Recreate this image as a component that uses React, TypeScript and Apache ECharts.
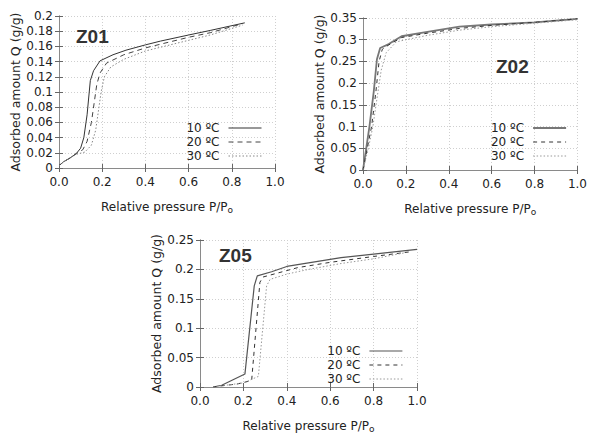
import React, { useEffect, useRef } from "react";
import * as echarts from "echarts";

const seriesNames = ["10 ºC", "20 ºC", "30 ºC"];
const panelTitles = ["Z01", "Z02", "Z05"];

// Z01 isotherms [P/P0, Q]
const z01_10: number[][] = [
  [0, 0.003], [0.02, 0.008], [0.05, 0.013], [0.08, 0.019], [0.1, 0.026], [0.115, 0.04],
  [0.13, 0.07], [0.14, 0.1], [0.145, 0.115], [0.16, 0.128], [0.19, 0.141], [0.25, 0.149],
  [0.31, 0.155], [0.4, 0.162], [0.47, 0.167], [0.6, 0.175], [0.7, 0.181], [0.86, 0.191],
];
const z01_20: number[][] = [
  [0, 0.003], [0.02, 0.008], [0.05, 0.013], [0.08, 0.019], [0.11, 0.024], [0.13, 0.035],
  [0.15, 0.06], [0.165, 0.09], [0.175, 0.11], [0.19, 0.125], [0.22, 0.138], [0.3, 0.149],
  [0.4, 0.158], [0.5, 0.165], [0.6, 0.172], [0.7, 0.178], [0.85, 0.19],
];
const z01_30: number[][] = [
  [0, 0.003], [0.02, 0.008], [0.05, 0.013], [0.08, 0.018], [0.12, 0.021], [0.15, 0.03],
  [0.17, 0.05], [0.185, 0.08], [0.195, 0.1], [0.21, 0.12], [0.24, 0.133], [0.3, 0.143],
  [0.4, 0.154], [0.5, 0.161], [0.6, 0.168], [0.7, 0.175], [0.85, 0.188],
];

// Z02 isotherms
const z02_10: number[][] = [
  [0, 0], [0.015, 0.05], [0.03, 0.1], [0.05, 0.18], [0.065, 0.255], [0.08, 0.281],
  [0.12, 0.29], [0.18, 0.308], [0.3, 0.318], [0.45, 0.33], [0.6, 0.335], [0.8, 0.34], [1.0, 0.348],
];
const z02_20: number[][] = [
  [0, 0], [0.02, 0.05], [0.04, 0.1], [0.06, 0.18], [0.075, 0.25], [0.09, 0.278],
  [0.12, 0.288], [0.18, 0.305], [0.3, 0.315], [0.45, 0.326], [0.6, 0.333], [0.8, 0.34], [1.0, 0.348],
];
const z02_30: number[][] = [
  [0, 0], [0.025, 0.05], [0.046, 0.1], [0.062, 0.154], [0.085, 0.23], [0.108, 0.27],
  [0.155, 0.295], [0.2, 0.3], [0.3, 0.31], [0.45, 0.322], [0.6, 0.33], [0.8, 0.338], [1.0, 0.346],
];

// Z05 isotherms
const z05_10: number[][] = [
  [0.06, 0], [0.1, 0.003], [0.207, 0.022], [0.25, 0.172], [0.264, 0.189], [0.33, 0.196],
  [0.4, 0.205], [0.5, 0.211], [0.65, 0.22], [0.8, 0.226], [1.0, 0.234],
];
const z05_20: number[][] = [
  [0.06, 0], [0.1, 0.002], [0.17, 0.005], [0.238, 0.011], [0.276, 0.178], [0.29, 0.187],
  [0.35, 0.193], [0.45, 0.203], [0.6, 0.212], [0.8, 0.222], [0.97, 0.23],
];
const z05_30: number[][] = [
  [0.06, 0], [0.1, 0.002], [0.2, 0.007], [0.269, 0.018], [0.307, 0.172], [0.323, 0.183],
  [0.4, 0.192], [0.5, 0.2], [0.65, 0.21], [0.8, 0.218], [0.94, 0.228],
];

const yMax = [0.2, 0.35, 0.25];
const yStep = [0.02, 0.05, 0.05];

const FONT = "DejaVu Sans";

export default function App() {
  const ref = useRef<HTMLDivElement>(null);
  useEffect(() => {
    if (!ref.current) return;
    const chart = echarts.init(ref.current, undefined, { renderer: "svg" });

    const grids = [
      { left: 59, top: 16, width: 216, height: 152 },
      { left: 363, top: 18, width: 216, height: 152 },
      { left: 200, top: 240, width: 217, height: 150 },
    ];
    const data = [
      [z01_10, z01_20, z01_30],
      [z02_10, z02_20, z02_30],
      [z05_10, z05_20, z05_30],
    ];
    const styles = [
      [
        { color: "#333", width: 1, type: "solid" },
        { color: "#444", width: 1, type: [5, 4] },
        { color: "#888", width: 1, type: [1.5, 2] },
      ],
      [
        { color: "#777", width: 1.8, type: "solid" },
        { color: "#333", width: 1, type: [4, 4] },
        { color: "#999", width: 1, type: [1.5, 2] },
      ],
      [
        { color: "#555", width: 1.2, type: "solid" },
        { color: "#333", width: 1, type: [4, 4] },
        { color: "#999", width: 1, type: [1.5, 2] },
      ],
    ];
    const titlePos = [
      { left: 76, top: 27 },
      { left: 496, top: 57 },
      { left: 219, top: 246 },
    ];
    const legendPos = [
      { right: 328, top: 122 },
      { right: 23, top: 122 },
      { right: 187, top: 345 },
    ];

    const xAxes: any[] = [];
    const yAxes: any[] = [];
    const series: any[] = [];
    const legends: any[] = [];
    const titles: any[] = [];
    const axisLine = { show: true, lineStyle: { color: "#8a8a8a", width: 1 } };
    const tick = { show: true, inside: true, length: 4, lineStyle: { color: "#666" } };

    grids.forEach((g, i) => {
      xAxes.push({
        type: "value", gridIndex: i, min: 0, max: 1, interval: 0.2, position: "bottom",
        axisLine, axisTick: tick,
        axisLabel: { fontFamily: FONT, fontSize: 12, color: "#222", margin: 8, formatter: (v: number) => v.toFixed(1) },
        splitLine: { show: true, lineStyle: { color: "#cfcfcf", type: [1, 2] } },
        name: "Relative pressure P/P{s|o}", nameLocation: "middle", nameGap: 31,
        nameTextStyle: { fontFamily: FONT, fontSize: 12, color: "#222", rich: { s: { fontFamily: FONT, fontSize: 9, color: "#222", padding: [6, 0, 0, 0] } } },
      });
      xAxes.push({
        type: "value", gridIndex: i, min: 0, max: 1, interval: 0.2, position: "top",
        axisLine, axisTick: tick, axisLabel: { show: false }, splitLine: { show: false },
      });
      yAxes.push({
        type: "value", gridIndex: i, min: 0, max: yMax[i], interval: yStep[i], position: "left",
        axisLine, axisTick: tick,
        axisLabel: { fontFamily: FONT, fontSize: 12, color: "#222", margin: 6, formatter: (v: number) => String(parseFloat(v.toFixed(4))) },
        splitLine: { show: true, lineStyle: { color: "#cfcfcf", type: [1, 2] } },
        name: "Adsorbed amount Q (g/g)", nameLocation: "middle", nameGap: 36,
        nameTextStyle: { fontFamily: FONT, fontSize: 12.5, color: "#222" },
      });
      yAxes.push({
        type: "value", gridIndex: i, min: 0, max: yMax[i], interval: yStep[i], position: "right",
        axisLine, axisTick: tick, axisLabel: { show: false }, splitLine: { show: false },
      });
      data[i].forEach((d, k) => {
        series.push({
          type: "line", name: seriesNames[k], xAxisIndex: 2 * i, yAxisIndex: 2 * i,
          data: d, showSymbol: false, symbol: "none", lineStyle: styles[i][k],
          itemStyle: { color: styles[i][k].color }, z: 3,
        });
      });
      legends.push({
        orient: "vertical", align: "right", ...legendPos[i], padding: 0,
        itemWidth: 33, itemHeight: 9, itemGap: 2, selectedMode: false,
        textStyle: { fontFamily: FONT, fontSize: 12, lineHeight: 12, color: "#222", padding: [0, 4, 0, 0] },
        data: seriesNames.map((n, k) => ({
          name: n,
          lineStyle: styles[i][k],
          itemStyle: { color: "rgba(0,0,0,0)", borderWidth: 0, opacity: 0 },
        })),
      });
      titles.push({
        text: panelTitles[i], ...titlePos[i], padding: 0,
        textStyle: { fontFamily: "Liberation Sans", fontWeight: "bold", fontSize: 19, color: "#333" },
      });
    });

    chart.setOption({
      animation: false,
      backgroundColor: "#fff",
      title: titles,
      legend: legends,
      grid: grids.map((g) => ({ ...g, containLabel: false })),
      xAxis: xAxes,
      yAxis: yAxes,
      series,
    });
    return () => chart.dispose();
  }, []);
  return <div ref={ref} style={{ position: "fixed", left: 0, top: 0, width: 590, height: 434 }} />;
}
